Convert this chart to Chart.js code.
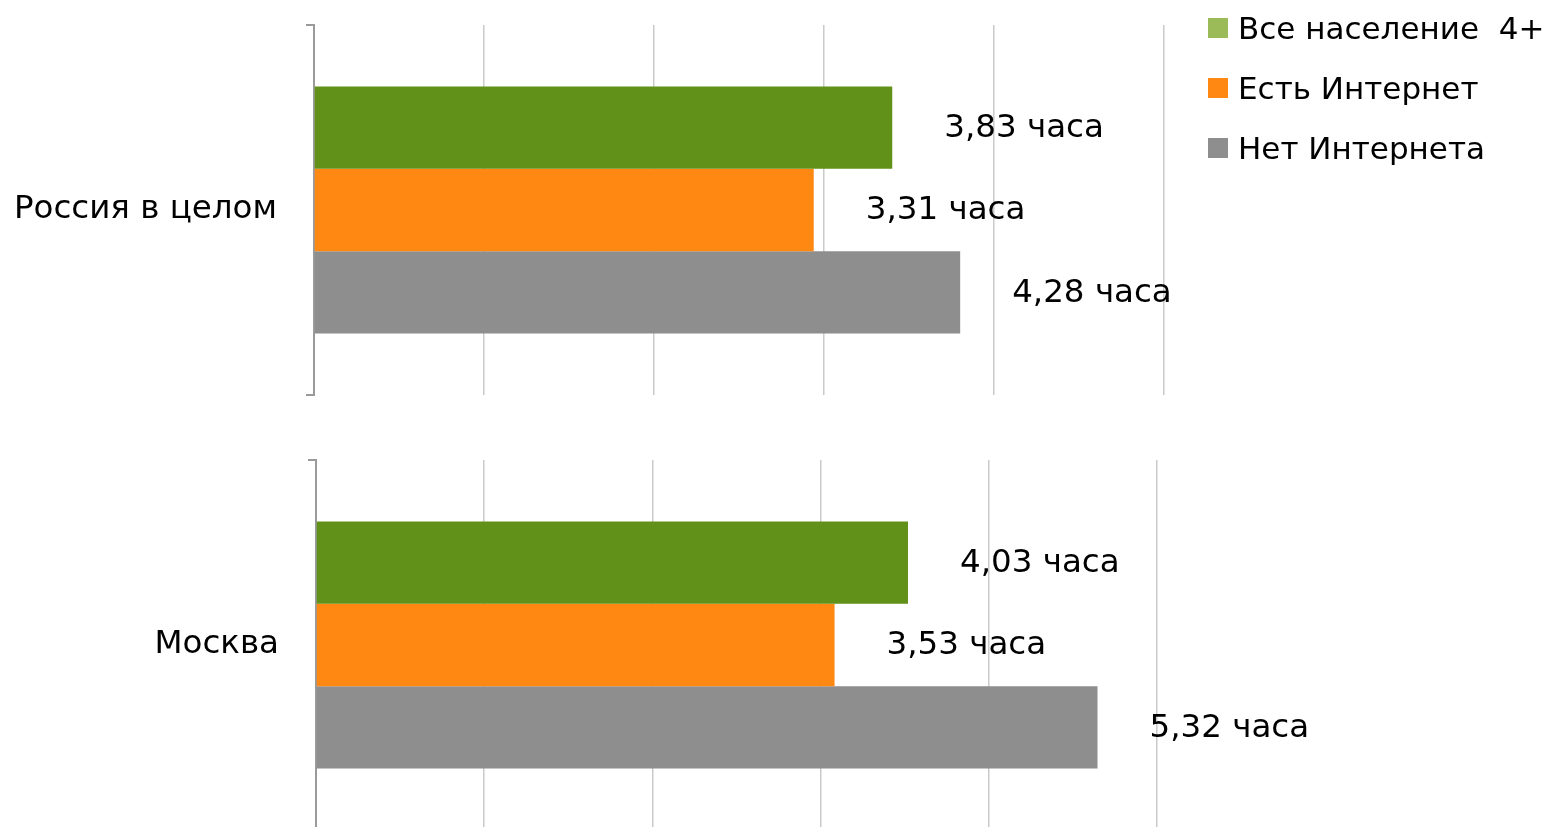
<!DOCTYPE html>
<html>
<head>
<meta charset="utf-8">
<script src="https://cdn.jsdelivr.net/npm/chart.js@4.4.0/dist/chart.umd.min.js"></script>
<style>
    body { margin: 0; background: #fff; overflow: hidden; width: 1547px; height: 827px; position: relative; }
    canvas { position: absolute; left: 0; }
    #legend { position: absolute; left: 1208px; top: 0; font-family: "DejaVu Sans", Verdana, sans-serif; font-size: 31px; color: #000; }
    .item { position: absolute; left: 0; white-space: pre; height: 60px; line-height: 60px; }
    .box { display: inline-block; width: 20px; height: 20px; margin-right: 10px; vertical-align: middle; position: relative; top: -3px; }
</style>
</head>
<body>
<canvas id="chartRussia" width="1547" height="420" style="top:0"></canvas>
<canvas id="chartMoscow" width="1547" height="400" style="top:440px"></canvas>
<div id="legend"></div>
<script>
const seriesNames = ['Все население  4+', 'Есть Интернет', 'Нет Интернета'];
const barColors = ['#62911a', '#ff8813', '#8e8e8e'];
const legendColors = ['#9bbb59', '#ff8813', '#8e8e8e'];

// values in hours
const russiaLabel = ['Россия в целом'];
const russiaValues = [3.83, 3.31, 4.28];
const moscowLabel = ['Москва'];
const moscowValues = [4.03, 3.53, 5.32];

// axis steps
const russiaStep = 1.126;
const moscowStep = 1.145;

const font = "'DejaVu Sans', Verdana, sans-serif";

function fmt(v) {
    return v.toFixed(2).replace('.', ',') + ' часа'
}

const valueLabels = {
    id: 'valueLabels',
    afterDatasetsDraw(chart) {
        let ctx = chart.ctx
        ctx.save()
        ctx.font = '32.5px ' + font
        ctx.fillStyle = '#000'
        ctx.textBaseline = 'middle'
        ctx.textAlign = 'left'
        chart.data.datasets.forEach((ds, i) => {
            chart.getDatasetMeta(i).data.forEach((bar, j) => {
                ctx.fillText(fmt(ds.data[j]), bar.x + 52, bar.y + 1)
            })
        })
        ctx.restore()
    }
};

function barChart(id, label, values, step, padding, leftWidth) {
    const data = {
        labels: label,
        datasets: values.map((v, i) => ({
            label: seriesNames[i],
            data: [v],
            backgroundColor: barColors[i],
            borderWidth: 0,
            categoryPercentage: 0.667,
            barPercentage: 1.0
        }))
    };

    const config = {
        type: 'bar',
        data: data,
        plugins: [valueLabels],
        options: {
            indexAxis: 'y',
            responsive: false,
            animation: false,
            layout: { padding: padding },
            plugins: { legend: { display: false }, tooltip: { enabled: false } },
            scales: {
                x: {
                    min: 0,
                    max: step * 5,
                    afterBuildTicks: scale => {
                        scale.ticks = [0, 1, 2, 3, 4, 5].map(k => ({ value: k * step }))
                    },
                    afterFit: scale => {
                        scale.height = 0
                        scale.paddingLeft = 0
                        scale.paddingRight = 0
                    },
                    ticks: { display: false },
                    border: { display: false },
                    grid: { color: '#cacaca', lineWidth: 1.5, drawTicks: false }
                },
                y: {
                    afterFit: scale => {
                        scale.width = leftWidth
                        scale.paddingTop = 0
                        scale.paddingBottom = 0
                    },
                    ticks: { color: '#000', font: { family: font, size: 32.5 }, padding: 29 },
                    border: { display: true, color: '#9a9a9a', width: 2 },
                    grid: { offset: true, drawOnChartArea: false, drawTicks: true, tickLength: 8, color: '#9a9a9a', lineWidth: 2 }
                }
            }
        }
    };

    let ctx = document.getElementById(id).getContext("2d")
    new Chart(ctx, config)
}

barChart('chartRussia', russiaLabel, russiaValues, russiaStep, { top: 25, bottom: 25, right: 383, left: 0 }, 314)
barChart('chartMoscow', moscowLabel, moscowValues, moscowStep, { top: 20, bottom: 10, right: 390, left: 0 }, 316)

// legend
let legend = document.getElementById('legend')
seriesNames.forEach((name, i) => {
    let item = document.createElement('div')
    item.className = 'item'
    item.style.top = (i * 60 - 2) + 'px'
    item.innerHTML = '<span class="box" style="background:' + legendColors[i] + '"></span>' + name
    legend.appendChild(item)
})
</script>
</body>
</html>
